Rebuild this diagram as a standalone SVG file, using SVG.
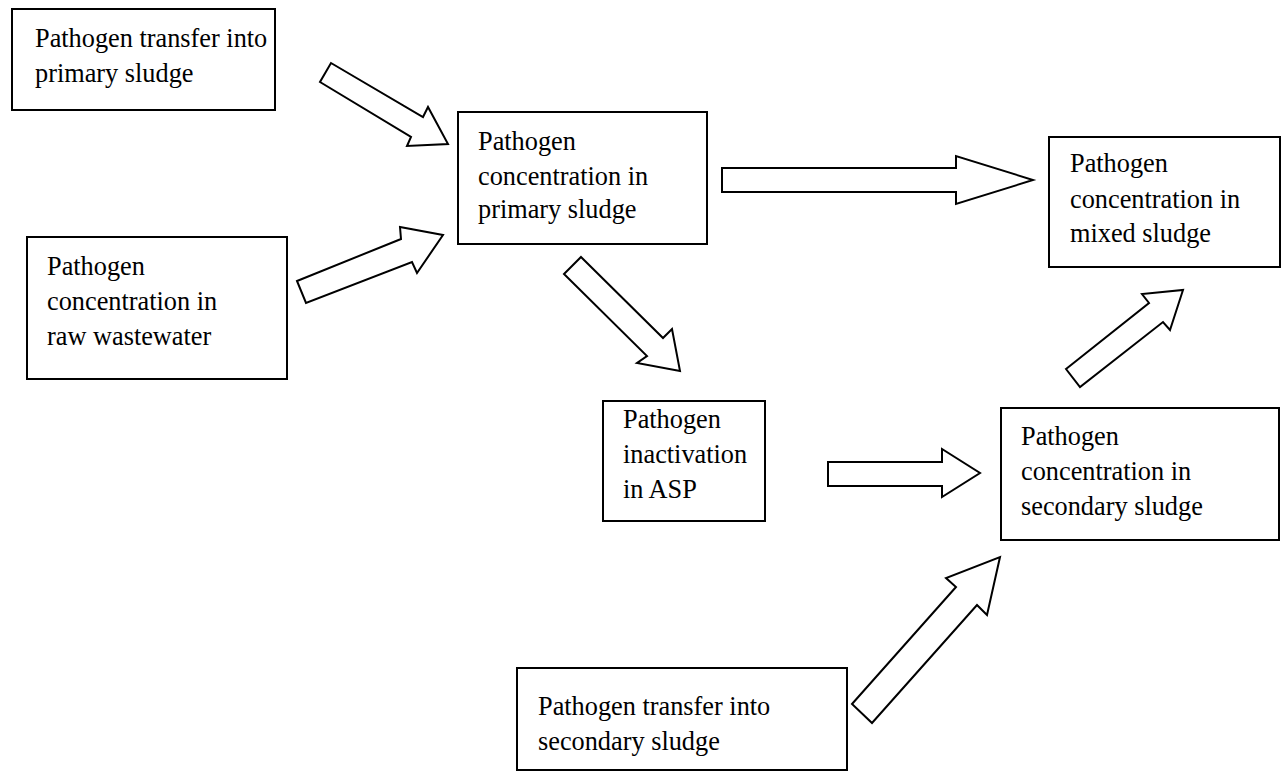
<svg xmlns="http://www.w3.org/2000/svg" width="1281" height="771" viewBox="0 0 1281 771">
<style>
.box{fill:#fff;stroke:#000;stroke-width:2}
.arr{fill:#fff;stroke:#000;stroke-width:2;stroke-linejoin:miter}
text{font-family:"Liberation Serif","Times New Roman",serif;font-size:26.3px;fill:#000}
</style>
<rect width="1281" height="771" fill="#fff"/>
<g id="connectors">
<polygon class="arr" points="331,63 423,117 428,107 448,144 407,146 411,137 320,82"/>
<polygon class="arr" points="297,281 401,239 400,227 443,235 417,273 412,262 306,303"/>
<polygon class="arr" points="722,168 956,168 956,156 1033,180 956,204 956,192 722,192"/>
<polygon class="arr" points="581,257 663,338 672,329 680,371 637,363 647,356 564,274"/>
<polygon class="arr" points="828,462 942,462 942,449 980,473 942,497 942,486 828,486"/>
<polygon class="arr" points="1066,369 1149,303 1142,294 1183,290 1170,330 1163,322 1080,387"/>
<polygon class="arr" points="852,704 956,587 946,578 1000,557 987,615 977,605 872,723"/>
</g>
<g id="n1"><rect class="box" x="12" y="9" width="263" height="101"/>
<text x="35" y="47">Pathogen transfer into</text><text x="35" y="82">primary sludge</text></g>
<g id="n2"><rect class="box" x="458" y="112" width="249" height="132"/>
<text x="478" y="150">Pathogen</text><text x="478" y="185">concentration in</text><text x="478" y="218">primary sludge</text></g>
<g id="n3"><rect class="box" x="27" y="237" width="260" height="142"/>
<text x="47" y="275">Pathogen</text><text x="47" y="310">concentration in</text><text x="47" y="345">raw wastewater</text></g>
<g id="n4"><rect class="box" x="1049" y="137" width="231" height="130"/>
<text x="1070" y="172">Pathogen</text><text x="1070" y="208">concentration in</text><text x="1070" y="242">mixed sludge</text></g>
<g id="n5"><rect class="box" x="603" y="401" width="162" height="120"/>
<text x="623" y="428">Pathogen</text><text x="623" y="463">inactivation</text><text x="623" y="498">in ASP</text></g>
<g id="n6"><rect class="box" x="1001" y="408" width="278" height="132"/>
<text x="1021" y="445">Pathogen</text><text x="1021" y="480">concentration in</text><text x="1021" y="515">secondary sludge</text></g>
<g id="n7"><rect class="box" x="517" y="668" width="330" height="102"/>
<text x="538" y="715">Pathogen transfer into</text><text x="538" y="750">secondary sludge</text></g>
</svg>
